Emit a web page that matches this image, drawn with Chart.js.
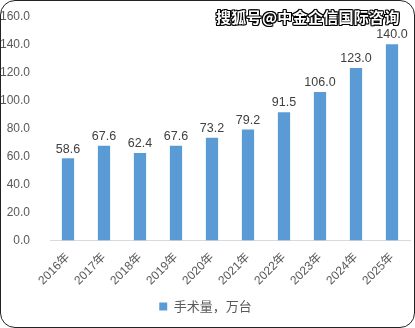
<!DOCTYPE html>
<html>
<head>
<meta charset="utf-8">
<script src="https://cdn.jsdelivr.net/npm/chart.js@4.4.0/dist/chart.umd.min.js"></script>
<style>
  html, body { margin: 0; padding: 0; background: #fff; }
  .frame {
    position: relative; width: 415px; height: 328px; box-sizing: border-box;
    border: 1.5px solid #222; border-radius: 15px; overflow: hidden; background: #fff;
  }
  .frame canvas { position: absolute; left: 0; top: -4px; }
  .mark {
    position: absolute; left: 215px; top: 5px; font: bold 15px "Noto Sans CJK SC", sans-serif;
    color: #fff; letter-spacing: 0.3px;
    text-shadow: -1px -1px 0 #000, 1px -1px 0 #000, -1px 1px 0 #000, 1px 1px 0 #000, 0 1px 0 #000, 0 -1px 0 #000, 1px 0 0 #000, -1px 0 0 #000;
  }
</style>
</head>
<body>
<div class="frame">
  <canvas id="chart" width="412" height="329"></canvas>
  <div class="mark">搜狐号@中金企信国际咨询</div>
</div>
<script>
  const years = ['2016年', '2017年', '2018年', '2019年', '2020年', '2021年', '2022年', '2023年', '2024年', '2025年'];
  const surgeries = [58.6, 67.6, 62.4, 67.6, 73.2, 79.2, 91.5, 106.0, 123.0, 140.0];
  const seriesName = '手术量，万台';

  // value labels over the bars
  const barLabels = {
    id: 'barLabels',
    afterDatasetsDraw(chart) {
      const ctx = chart.ctx;
      const meta = chart.getDatasetMeta(0);
      ctx.save();
      ctx.font = '12.5px "Liberation Sans", "Noto Sans CJK SC", sans-serif';
      ctx.fillStyle = '#404040';
      ctx.textAlign = 'center';
      ctx.textBaseline = 'bottom';
      meta.data.forEach((bar, i) => {
        ctx.fillText(surgeries[i].toFixed(1), bar.x, bar.y - 3);
      });
      ctx.restore();
    }
  };

  new Chart(document.getElementById('chart'), {
    type: 'bar',
    data: {
      labels: years,
      datasets: [{
        label: seriesName,
        data: surgeries,
        backgroundColor: '#5b9bd5',
        barPercentage: 0.34,
        categoryPercentage: 1.0
      }]
    },
    options: {
      responsive: false,
      animation: false,
      layout: { padding: { top: 4, right: 3, left: 0, bottom: 3 } },
      plugins: {
        legend: {
          position: 'bottom',
          labels: {
            boxWidth: 8, boxHeight: 8, padding: 10,
            color: '#595959',
            font: { family: '"Noto Sans CJK SC", sans-serif', size: 13 }
          }
        },
        tooltip: { enabled: false }
      },
      scales: {
        x: {
          grid: { display: false },
          border: { display: true, color: '#d9d9d9' },
          ticks: {
            color: '#595959', maxRotation: 45, minRotation: 45, padding: 2,
            font: { family: '"Liberation Sans", "Noto Sans CJK SC", sans-serif', size: 12 }
          }
        },
        y: {
          min: 0, max: 160,
          grid: { display: false },
          border: { display: false },
          afterFit(scale) { scale.width = 49; },
          ticks: {
            stepSize: 20, color: '#595959', padding: 12,
            callback: v => v.toFixed(1),
            font: { family: '"Liberation Sans", sans-serif', size: 12 }
          }
        }
      }
    },
    plugins: [barLabels]
  });
</script>
</body>
</html>
